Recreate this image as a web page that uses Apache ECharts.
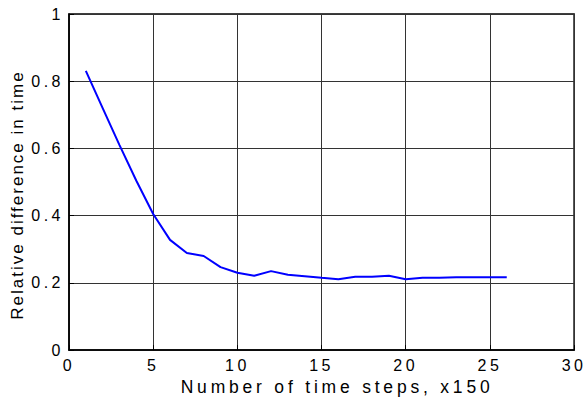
<!DOCTYPE html>
<html>
<head>
<meta charset="utf-8">
<script src="https://cdn.jsdelivr.net/npm/echarts@6/dist/echarts.min.js"></script>
<style>
	html, body { margin: 0; padding: 0; background: #fff; }
	#chart { width: 586px; height: 401px; }
	/* the reference text is widely spaced; svg text takes css letter-spacing */
	#chart text { letter-spacing: 3.5px; }
	#chart text[style*="17.5px"] { letter-spacing: 3.8px; }
	#chart text[style*="17px"] { letter-spacing: 2px; }
</style>
</head>
<body>
<div id="chart"></div>
<script>
	var steps = [1, 2, 3, 4, 5, 6, 7, 8, 9, 10, 11, 12, 13, 14, 15, 16, 17, 18, 19, 20, 21, 22, 23, 24, 25, 26];
	var relDiff = [0.831, 0.72, 0.61, 0.504, 0.405, 0.328, 0.289, 0.28, 0.247, 0.23, 0.221, 0.235, 0.224, 0.22,
		0.215, 0.211, 0.218, 0.218, 0.221, 0.211, 0.215, 0.215, 0.217, 0.217, 0.217, 0.217];

	var myChart = echarts.init(document.getElementById('chart'), null, { renderer: 'svg' });
	var font = 'Liberation Sans, Arial, sans-serif';
	var option = {
		animation: false,
		grid: {
			left: 69, right: 10, top: 14, bottom: 49,
			show: true, borderColor: '#000', borderWidth: 1.5
		},
		xAxis: {
			type: 'value',
			min: 0, max: 30, interval: 5,
			name: 'Number of time steps, x150',
			nameLocation: 'middle',
			nameGap: 27,
			nameTextStyle: { color: '#000', fontFamily: font, fontSize: 17.5, padding: [0, 0, 0, 31] },
			axisLine: { show: true, lineStyle: { color: '#000', width: 1.5 } },
			axisTick: { show: true, inside: true, length: 5, lineStyle: { color: '#000' } },
			axisLabel: { color: '#000', fontFamily: font, fontSize: 16, margin: 7 },
			splitLine: { show: true, lineStyle: { color: '#333', width: 1 } }
		},
		yAxis: {
			type: 'value',
			min: 0, max: 1, interval: 0.2,
			name: 'Relative difference in time',
			nameLocation: 'middle',
			nameGap: 43,
			nameTextStyle: { color: '#000', fontFamily: font, fontSize: 17, padding: [0, 26, 0, 0] },
			axisLine: { show: true, lineStyle: { color: '#000', width: 1.5 } },
			axisTick: { show: true, inside: true, length: 5, lineStyle: { color: '#000' } },
			axisLabel: { color: '#000', fontFamily: font, fontSize: 16, margin: 5 },
			splitLine: { show: true, lineStyle: { color: '#333', width: 1 } }
		},
		series: [{
			type: 'line',
			data: steps.map(function (s, i) { return [s, relDiff[i]]; }),
			showSymbol: false,
			lineStyle: { color: '#0000ff', width: 2 }
		}]
	};
	myChart.setOption(option);
</script>
</body>
</html>
